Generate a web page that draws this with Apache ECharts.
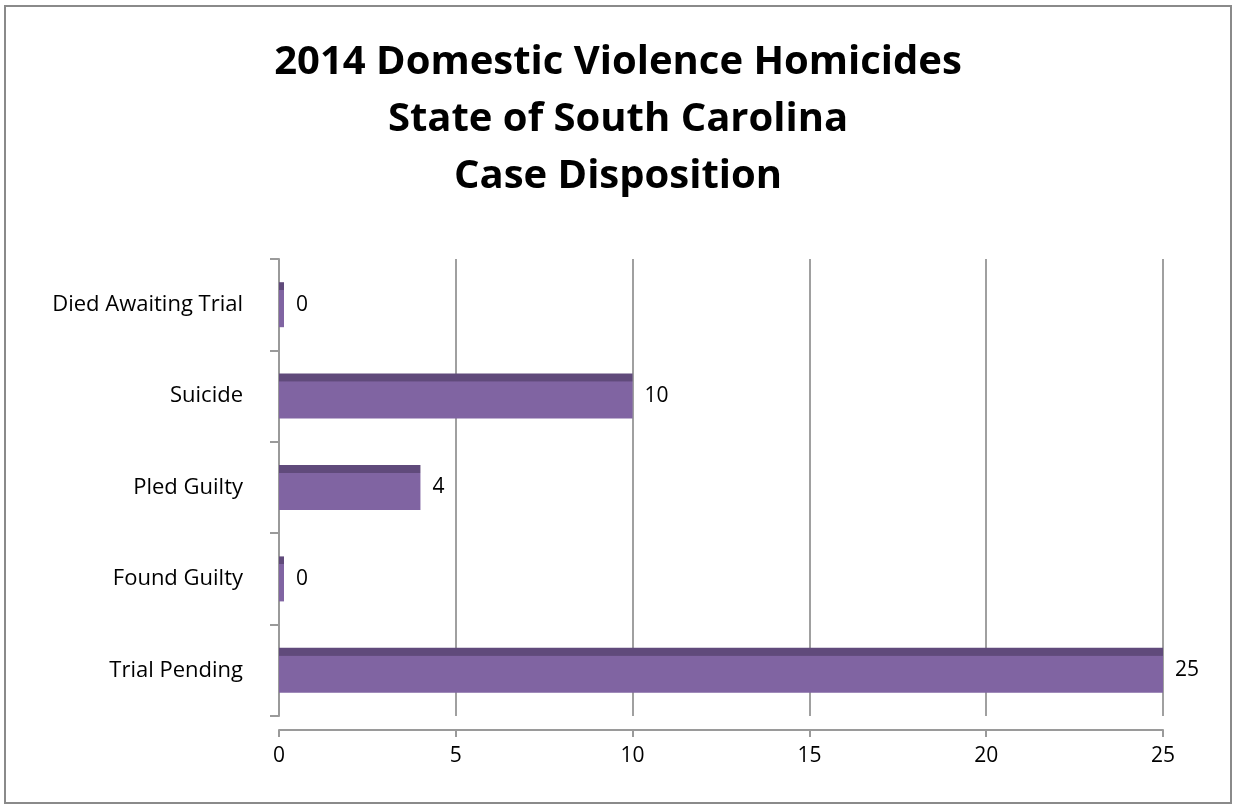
<!DOCTYPE html>
<html>
<head>
<meta charset="utf-8">
<script src="https://cdn.jsdelivr.net/npm/echarts@6/dist/echarts.min.js"></script>
<style>
html,body{margin:0;padding:0;background:#fff;}
#chart{width:1236px;height:806px;}
</style>
</head>
<body>
<div id="chart"></div>
<script>
const categories = ['Trial Pending', 'Found Guilty', 'Pled Guilty', 'Suicide', 'Died Awaiting Trial'];
const values = [25, 0, 4, 10, 0];
const xTicks = [0, 5, 10, 15, 20, 25];
const titleLines = ['2014 Domestic Violence Homicides', 'State of South Carolina', 'Case Disposition'];

const FONT = '"Open Sans", Lato, sans-serif';
const chart = echarts.init(document.getElementById('chart'));
chart.setOption({
  backgroundColor: '#ffffff',
  animation: false,
  title: {
    text: titleLines.join('\n'),
    left: 'center',
    top: 29,
    textStyle: {
      fontFamily: FONT,
      fontSize: 40,
      fontWeight: 'bold',
      color: '#000',
      lineHeight: 57
    }
  },
  graphic: [{
    type: 'rect',
    shape: { x: 5, y: 6, width: 1226, height: 797 },
    style: { fill: 'none', stroke: '#8a8a8a', lineWidth: 2 },
    silent: true
  }],
  grid: { left: 279, right: 73, top: 259, bottom: 90 },
  xAxis: {
    type: 'value',
    min: 0,
    max: 25,
    interval: 5,
    offset: 14,
    axisLine: { show: true, lineStyle: { color: '#9a9a9a', width: 2 } },
    axisTick: { show: true, length: 7, lineStyle: { color: '#9a9a9a', width: 2 } },
    axisLabel: {
      margin: 16,
      fontFamily: FONT,
      fontSize: 21,
      color: '#000',
      formatter: v => xTicks.includes(v) ? String(v) : ''
    },
    splitLine: { show: true, lineStyle: { color: '#a0a0a0', width: 2 } }
  },
  yAxis: {
    type: 'category',
    data: categories,
    axisLine: { show: true, lineStyle: { color: '#9a9a9a', width: 2 } },
    axisTick: { show: true, length: 9, lineStyle: { color: '#9a9a9a', width: 2 } },
    axisLabel: {
      margin: 36,
      fontFamily: FONT,
      fontSize: 22,
      color: '#000'
    }
  },
  series: [{
    type: 'bar',
    data: values,
    barWidth: 45,
    barMinHeight: 5,
    itemStyle: {
      color: {
        type: 'linear', x: 0, y: 0, x2: 0, y2: 1,
        colorStops: [
          { offset: 0, color: '#604a7b' },
          { offset: 0.17, color: '#604a7b' },
          { offset: 0.18, color: '#8064a2' },
          { offset: 1, color: '#8064a2' }
        ]
      }
    },
    label: {
      show: true,
      position: 'right',
      distance: 12,
      fontFamily: FONT,
      fontSize: 21,
      color: '#000'
    }
  }]
});
</script>
</body>
</html>
